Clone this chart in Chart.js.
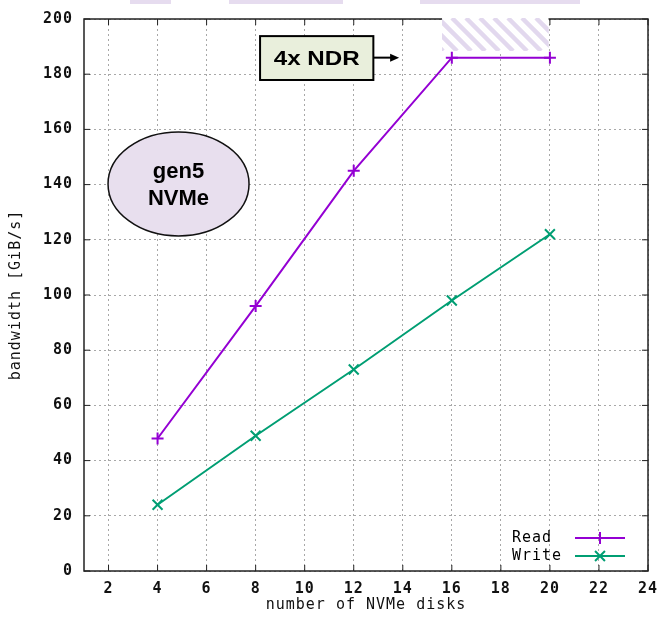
<!DOCTYPE html>
<html lang="en">
<head>
<meta charset="UTF-8">
<title>NVMe bandwidth</title>
<script src="https://cdn.jsdelivr.net/npm/chart.js"></script>
<style>
  body { margin: 0; background: #fff; }
</style>
</head>
<body>
<canvas id="bwChart" width="663" height="623"></canvas>
<script>
// data
const disks = [4, 8, 12, 16, 20];
const readBW = [48, 96, 145, 186, 186];
const writeBW = [24, 49, 73, 98, 122];
const seriesNames = ['Read', 'Write'];
const xTickValues = [2, 4, 6, 8, 10, 12, 14, 16, 18, 20, 22, 24];
const yTickValues = [0, 20, 40, 60, 80, 100, 120, 140, 160, 180, 200];
const xTitle = 'number of NVMe disks';
const yTitle = 'bandwidth [GiB/s]';

// annotations, in axis units
const ndrBand = [15.6, 19.95, 188.4, 200];      // x from, x to, y from, y to
const ndrBox = [8.18, 12.8, 177.9, 193.8];
const ndrArrowTo = [13.85, 186];
const ndrText = '4x NDR';
const nvmeBubble = [1.98, 7.73, 121.4, 159.1];
const nvmeText = ['gen5', 'NVMe'];

const monoFont = 'DejaVu Sans Mono';
const spacing = '1px'; // gnuplot text here is wide, so spread the letters a little

function line(ctx, x1, y1, x2, y2) {
    ctx.beginPath(); ctx.moveTo(x1, y1); ctx.lineTo(x2, y2); ctx.stroke();
}

const wideText = {
    id: 'wideText',
    beforeUpdate(chart) { chart.ctx.letterSpacing = spacing; },
    beforeLayout(chart) { chart.ctx.letterSpacing = spacing; },
    beforeDraw(chart) { chart.ctx.letterSpacing = spacing; }
};

const decor = {
    id: 'decor',
    afterDraw(chart) {
        const ctx = chart.ctx, a = chart.chartArea;
        const xs = chart.scales.x, ys = chart.scales.y;
        const px = v => xs.getPixelForValue(v), py = v => ys.getPixelForValue(v);
        ctx.save();

        // cropped bits of whatever sat above the figure
        ctx.fillStyle = '#e6dcef';
        ctx.fillRect(130, 0, 41, 4);
        ctx.fillRect(229, 0, 114, 4);
        ctx.fillRect(420, 0, 160, 4);

        // frame + inward ticks
        ctx.strokeStyle = '#222';
        ctx.lineWidth = 1.5;
        ctx.strokeRect(a.left, a.top, a.right - a.left, a.bottom - a.top);
        ctx.lineWidth = 1;
        xs.ticks.forEach(t => {
            const x = px(t.value);
            line(ctx, x, a.bottom, x, a.bottom - 6);
            line(ctx, x, a.top, x, a.top + 6);
        });
        ys.ticks.forEach(t => {
            const y = py(t.value);
            line(ctx, a.left, y, a.left + 6, y);
            line(ctx, a.right, y, a.right - 6, y);
        });

        // hatched NDR band (covers the frame top)
        const bx = px(ndrBand[0]), bx2 = px(ndrBand[1]);
        const by = py(ndrBand[3]) - 1, by2 = py(ndrBand[2]);
        ctx.save();
        ctx.beginPath();
        ctx.rect(bx, by, bx2 - bx, by2 - by);
        ctx.clip();
        ctx.fillStyle = '#fff';
        ctx.fillRect(bx, by, bx2 - bx, by2 - by);
        ctx.strokeStyle = '#e2d8ee';
        ctx.lineWidth = 4.5;
        for (let s = bx - 60; s < bx2 + 10; s += 14) {
            line(ctx, s, by, s + (by2 - by), by2);
        }
        ctx.restore();

        ctx.letterSpacing = '0px';
        // gen5 NVMe bubble
        const ex = px(nvmeBubble[0]), ex2 = px(nvmeBubble[1]);
        const ey = py(nvmeBubble[3]), ey2 = py(nvmeBubble[2]);
        const cx = (ex + ex2) / 2, cy = (ey + ey2) / 2;
        ctx.beginPath();
        ctx.ellipse(cx, cy, (ex2 - ex) / 2, (ey2 - ey) / 2, 0, 0, Math.PI * 2);
        ctx.fillStyle = '#e8dfee';
        ctx.fill();
        ctx.strokeStyle = '#111';
        ctx.lineWidth = 1.5;
        ctx.stroke();
        ctx.fillStyle = '#000';
        ctx.font = 'bold 22px "Liberation Sans", Arial, sans-serif';
        ctx.textAlign = 'center';
        ctx.textBaseline = 'middle';
        ctx.fillText(nvmeText[0], cx, cy - 12);
        ctx.fillText(nvmeText[1], cx, cy + 15);

        // 4x NDR box + arrow
        const rx = px(ndrBox[0]), rx2 = px(ndrBox[1]);
        const ry = py(ndrBox[3]), ry2 = py(ndrBox[2]);
        ctx.fillStyle = '#e9efdc';
        ctx.fillRect(rx, ry, rx2 - rx, ry2 - ry);
        ctx.strokeStyle = '#000';
        ctx.lineWidth = 2;
        ctx.strokeRect(rx, ry, rx2 - rx, ry2 - ry);
        ctx.save();
        ctx.translate((rx + rx2) / 2, (ry + ry2) / 2 + 1);
        ctx.scale(1.15, 1);
        ctx.fillStyle = '#000';
        ctx.font = 'bold 21px "Liberation Sans", Arial, sans-serif';
        ctx.fillText(ndrText, 0, 0);
        ctx.restore();
        const ax = px(ndrArrowTo[0]), ay = py(ndrArrowTo[1]);
        ctx.lineWidth = 2;
        line(ctx, rx2, ay, ax - 6, ay);
        ctx.beginPath();
        ctx.moveTo(ax, ay);
        ctx.lineTo(ax - 9, ay - 4);
        ctx.lineTo(ax - 9, ay + 4);
        ctx.closePath();
        ctx.fillStyle = '#000';
        ctx.fill();

        // legend, bottom right inside the frame
        ctx.letterSpacing = spacing;
        ctx.font = '15px ' + monoFont;
        ctx.textAlign = 'left';
        ctx.textBaseline = 'middle';
        chart.data.datasets.forEach((ds, i) => {
            const y = a.bottom - 33 + i * 18;
            ctx.fillStyle = '#000';
            ctx.fillText(ds.label, a.right - 136, y);
            ctx.strokeStyle = ds.borderColor;
            ctx.lineWidth = 2;
            line(ctx, a.right - 73, y, a.right - 23, y);
            Chart.helpers.drawPoint(ctx, {
                pointStyle: ds.pointStyle, radius: ds.pointRadius,
                rotation: 0, borderWidth: 2
            }, a.right - 48, y);
        });
        ctx.restore();
    }
};

const gridCfg = { color: '#a8a8a8', lineWidth: 1, drawTicks: false };
const tickFont = { family: monoFont, size: 15, weight: 'bold' };
const titleFont = { family: monoFont, size: 15 };

// keep the plot box fixed: no extra room for overhanging labels
function fixPadding(s) {
    s.paddingLeft = 0; s.paddingRight = 0; s.paddingTop = 0; s.paddingBottom = 0;
}

new Chart(document.getElementById('bwChart').getContext('2d'), {
    type: 'line',
    data: {
        datasets: [{
            label: seriesNames[0],
            data: disks.map((d, i) => ({ x: d, y: readBW[i] })),
            borderColor: '#9400d3',
            backgroundColor: '#9400d3',
            borderWidth: 2,
            pointStyle: 'cross',
            pointRadius: 6,
            pointBorderWidth: 2,
            tension: 0
        }, {
            label: seriesNames[1],
            data: disks.map((d, i) => ({ x: d, y: writeBW[i] })),
            borderColor: '#009e73',
            backgroundColor: '#009e73',
            borderWidth: 2,
            pointStyle: 'crossRot',
            pointRadius: 7,
            pointBorderWidth: 2,
            tension: 0
        }]
    },
    options: {
        responsive: false,
        animation: false,
        layout: { padding: { top: 19, right: 15, left: 0, bottom: 0 } },
        plugins: { legend: { display: false }, tooltip: { enabled: false } },
        scales: {
            x: {
                type: 'linear', min: 1, max: 24,
                afterBuildTicks: s => { s.ticks = xTickValues.map(v => ({ value: v })); },
                afterFit: s => { s.height = 52; fixPadding(s); },
                ticks: { color: '#111', font: tickFont, padding: 9, maxRotation: 0, autoSkip: false },
                grid: gridCfg,
                border: { display: false, dash: [2, 3] },
                title: { display: true, text: xTitle, color: '#111', font: titleFont, padding: { top: 0, bottom: 9 } }
            },
            y: {
                type: 'linear', min: 0, max: 200,
                afterBuildTicks: s => { s.ticks = yTickValues.map(v => ({ value: v })); },
                afterFit: s => { s.width = 84; fixPadding(s); },
                ticks: { color: '#111', font: tickFont, padding: 11, autoSkip: false },
                grid: gridCfg,
                border: { display: false, dash: [2, 3] },
                title: { display: true, text: yTitle, color: '#111', font: titleFont, padding: { top: 7, bottom: 0 } }
            }
        }
    },
    plugins: [wideText, decor]
});
</script>
</body>
</html>
